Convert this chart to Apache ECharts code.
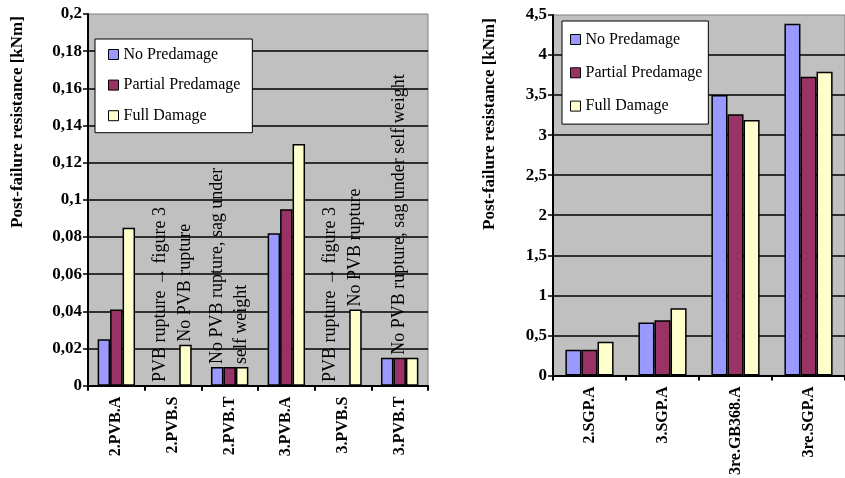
<!DOCTYPE html>
<html>
<head>
<meta charset="utf-8">
<script src="https://cdn.jsdelivr.net/npm/echarts@6/dist/echarts.min.js"></script>
<style>
html,body{margin:0;padding:0;background:#fff;}
#chart{width:845px;height:478px;}
</style>
</head>
<body>
<div id="chart"></div>
<script>
// ---------- data ----------
var seriesNames = ['No Predamage', 'Partial Predamage', 'Full Damage'];

var leftCategories = ['2.PVB.A', '2.PVB.S', '2.PVB.T', '3.PVB.A', '3.PVB.S', '3.PVB.T'];
var leftNoPredamage = [0.025, 0, 0.01, 0.082, 0, 0.015];
var leftPartialPredamage = [0.041, 0, 0.01, 0.095, 0, 0.015];
var leftFullDamage = [0.085, 0.022, 0.01, 0.13, 0.041, 0.015];

var rightCategories = ['2.SGP.A', '3.SGP.A', '3re.GB368.A', '3re.SGP.A'];
var rightNoPredamage = [0.32, 0.66, 3.5, 4.39];
var rightPartialPredamage = [0.32, 0.69, 3.26, 3.73];
var rightFullDamage = [0.42, 0.84, 3.19, 3.79];

var leftNotes = [
  {category: '2.PVB.S', series: 'No Predamage', text: 'PVB rupture \u2192 figure 3'},
  {category: '2.PVB.S', series: 'Full Damage', text: 'No PVB rupture'},
  {category: '2.PVB.T', series: 'Partial Predamage', text: 'No PVB rupture, sag under\nself weight'},
  {category: '3.PVB.S', series: 'No Predamage', text: 'PVB rupture \u2192 figure 3'},
  {category: '3.PVB.S', series: 'Full Damage', text: 'No PVB rupture'},
  {category: '3.PVB.T', series: 'Partial Predamage', text: 'No PVB rupture, sag under self weight'}
];

var yTitle = 'Post-failure resistance [kNm]';

// ---------- styles ----------
var FONT = 'Liberation Serif';
var colors = {'No Predamage': '#9999ff', 'Partial Predamage': '#993366', 'Full Damage': '#ffffcc'};

function commaFmt(v) {
  return String(+v.toFixed(2)).replace('.', ',');
}

function buildData(values, categories, seriesName, notes) {
  return values.map(function (v, i) {
    var item = {value: v};
    notes.forEach(function (n) {
      if (n.series === seriesName && n.category === categories[i]) {
        item.label = {
          show: true,
          formatter: n.text,
          position: 'top',
          rotate: 90,
          align: 'left',
          verticalAlign: 'middle',
          distance: 3,
          fontFamily: FONT,
          fontSize: 18,
          lineHeight: 24,
          color: '#000'
        };
      }
    });
    return item;
  });
}

function xAxisCfg(gridIndex, cats) {
  return {
    type: 'category', gridIndex: gridIndex, data: cats,
    axisLine: {lineStyle: {color: '#000', width: 2}},
    axisTick: {show: true, length: 5, lineStyle: {color: '#000', width: 2}},
    axisLabel: {rotate: 90, margin: 11, fontFamily: FONT, fontWeight: 'bold', fontSize: 16, color: '#000', interval: 0},
    splitLine: {show: false}
  };
}
function yAxisCfg(gridIndex, max, interval) {
  return {
    type: 'value', gridIndex: gridIndex, min: 0, max: max, interval: interval,
    axisLine: {show: true, lineStyle: {color: '#000', width: 2}},
    axisTick: {show: true, length: 5, lineStyle: {color: '#000', width: 1.5}},
    axisLabel: {margin: 6, fontFamily: FONT, fontWeight: 'bold', fontSize: 17, color: '#000', formatter: commaFmt},
    splitLine: {show: true, showMaxLine: false, showMinLine: false, lineStyle: {color: '#000', width: 1.5}}
  };
}
function barSeries(name, idx, values, cats, notes) {
  return {
    type: 'bar', name: name, xAxisIndex: idx, yAxisIndex: idx,
    data: buildData(values, cats, name, notes),
    barGap: '0%', barCategoryGap: '34%',
    itemStyle: {color: colors[name], borderColor: '#000', borderWidth: 1.5},
    emphasis: {disabled: true},
    animation: false
  };
}
function legendCfg(left, top, padding, gap) {
  return {
    orient: 'vertical', left: left, top: top, padding: padding, itemGap: gap,
    backgroundColor: '#fff', borderColor: '#000', borderWidth: 1, borderRadius: 0,
    icon: 'rect', itemWidth: 10, itemHeight: 10,
    itemStyle: {borderColor: '#000', borderWidth: 1},
    textStyle: {fontFamily: FONT, fontSize: 16, color: '#000', lineHeight: 18},
    data: seriesNames, selectedMode: false
  };
}

var chart = echarts.init(document.getElementById('chart'), null, {renderer: 'canvas'});
var option = {
  animation: false,
  backgroundColor: '#fff',
  grid: [
    {left: 88, top: 14, width: 340, height: 371.7, show: true, backgroundColor: '#c0c0c0', borderColor: '#808080', borderWidth: 1},
    {left: 553, top: 15, width: 296, height: 362.7, show: true, backgroundColor: '#c0c0c0', borderColor: '#808080', borderWidth: 1}
  ],
  xAxis: [xAxisCfg(0, leftCategories), xAxisCfg(1, rightCategories)],
  yAxis: [yAxisCfg(0, 0.2, 0.02), yAxisCfg(1, 4.5, 0.5)],
  legend: [
    legendCfg(95, 39, [6.5, 12, 8, 13], 12.6),
    legendCfg(562, 21, [9.5, 6, 9, 8], 15.3)
  ],
  graphic: [
    {type: 'text', x: 18, y: 122, rotation: Math.PI / 2,
     style: {text: yTitle, font: 'bold 17px "Liberation Serif"', fill: '#000', textAlign: 'center', textVerticalAlign: 'middle'}},
    {type: 'text', x: 490, y: 124, rotation: Math.PI / 2,
     style: {text: yTitle, font: 'bold 17px "Liberation Serif"', fill: '#000', textAlign: 'center', textVerticalAlign: 'middle'}}
  ],
  series: [
    barSeries(seriesNames[0], 0, leftNoPredamage, leftCategories, leftNotes),
    barSeries(seriesNames[1], 0, leftPartialPredamage, leftCategories, leftNotes),
    barSeries(seriesNames[2], 0, leftFullDamage, leftCategories, leftNotes),
    barSeries(seriesNames[0], 1, rightNoPredamage, rightCategories, []),
    barSeries(seriesNames[1], 1, rightPartialPredamage, rightCategories, []),
    barSeries(seriesNames[2], 1, rightFullDamage, rightCategories, [])
  ]
};
chart.setOption(option);
</script>
</body>
</html>
